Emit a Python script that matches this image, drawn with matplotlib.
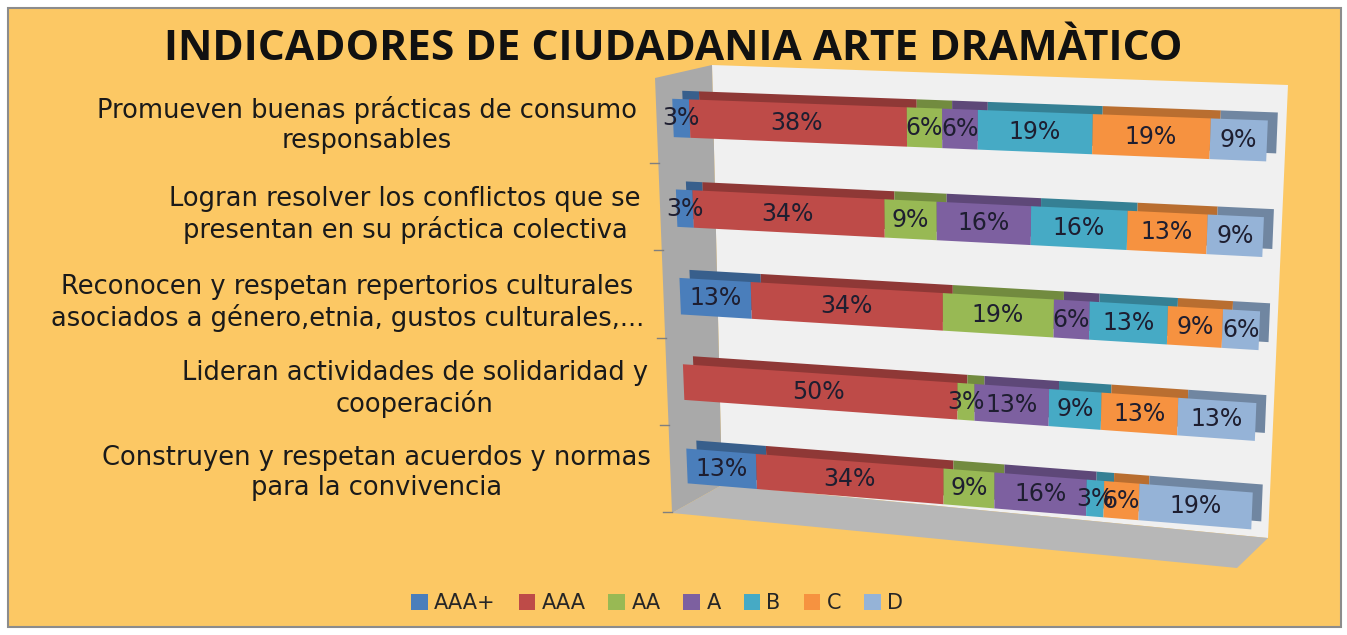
import numpy as np
import matplotlib.pyplot as plt
import matplotlib.transforms as mtransforms
from matplotlib.patches import Polygon, Rectangle
from matplotlib.colors import to_rgb

W, H = 1347, 635

categories = [
    "Promueven buenas prácticas de consumo\nresponsables",
    "Logran resolver los conflictos que se\npresentan en su práctica colectiva",
    "Reconocen y respetan repertorios culturales\nasociados a género,etnia, gustos culturales,...",
    "Lideran actividades de solidaridad y\ncooperación",
    "Construyen y respetan acuerdos y normas\npara la convivencia",
]
series = ["AAA+", "AAA", "AA", "A", "B", "C", "D"]
aaa_plus = [3, 3, 13, 0, 13]
aaa      = [38, 34, 34, 50, 34]
aa       = [6, 9, 19, 3, 9]
a_vals   = [6, 16, 6, 13, 16]
b_vals   = [19, 16, 13, 9, 3]
c_vals   = [19, 13, 9, 13, 6]
d_vals   = [9, 9, 6, 13, 19]
colors = ["#4A7EBB", "#BE4B48", "#98B954", "#7D60A0", "#46AAC5", "#F69240", "#95B3D7"]

values = np.array([aaa_plus, aaa, aa, a_vals, b_vals, c_vals, d_vals], dtype=float)
shares = values / values.sum(axis=0) * 100   # 100% stacked
rows = np.arange(len(categories))


# ── perspective (homography) for the fake 3D look ─────────────────────────────
def homography(src, dst):
    A, rhs = [], []
    for (x, y), (u, v) in zip(src, dst):
        A.append([x, y, 1, 0, 0, 0, -u * x, -u * y]); rhs.append(u)
        A.append([0, 0, 0, x, y, 1, -v * x, -v * y]); rhs.append(v)
    h = np.linalg.solve(np.array(A, float), np.array(rhs, float))
    return np.append(h, 1).reshape(3, 3)


class Perspective(mtransforms.Transform):
    input_dims = output_dims = 2

    def __init__(self, M):
        super().__init__()
        self.M = M

    def transform_non_affine(self, pts):
        pts = np.asarray(pts, float).reshape(-1, 2)
        p = np.c_[pts, np.ones(len(pts))] @ self.M.T
        return p[:, :2] / p[:, 2:3]


# data (percent, row) -> image pixels (y down)
M = homography([(0, 0), (100, 0), (0, 4), (100, 4)],
               [(673, 118), (1267, 141), (687, 466), (1252, 511)])

fig = plt.figure(figsize=(W / 100, H / 100), dpi=100)
fig.patch.set_facecolor("white")
ax = fig.add_axes([0, 0, 1, 1])
ax.set_axis_off()
ax.set_zorder(5)
ax.set_xlim(0, 1); ax.set_ylim(0, 1)

to_fig = mtransforms.Affine2D().scale(1 / W, -1 / H).translate(0, 1) + fig.transFigure
persp = Perspective(M)
T_front = persp + to_fig
T_back = persp + mtransforms.Affine2D().translate(10, -8) + to_fig
T_lab = persp + mtransforms.Affine2D().translate(-36, 7) + to_fig

# ── chart background, walls and floor ─────────────────────────────────────────
fig.add_artist(Rectangle((8, 627), 1333, -619, transform=to_fig,
                         facecolor="#FCC864", edgecolor="#8C8C8C", lw=1.5, zorder=0))
fig.add_artist(Polygon([(712, 65), (1288, 85), (1268, 538), (722, 485)], transform=to_fig,
                       facecolor="#F0F0F0", edgecolor="none", zorder=1))
fig.add_artist(Polygon([(655, 78), (712, 65), (722, 485), (672, 513)], transform=to_fig,
                       facecolor="#A9A9A9", edgecolor="none", zorder=1))
fig.add_artist(Polygon([(672, 513), (722, 485), (1268, 538), (1237, 568)], transform=to_fig,
                       facecolor="#B7B7B7", edgecolor="none", zorder=1))
# small category separators on the side wall
for ty, tx in [(163, 659), (250, 663), (338, 666), (425, 669), (512, 672)]:
    fig.add_artist(plt.Line2D([tx - 9, tx], [ty, ty], transform=to_fig,
                              color="#7F7F7F", lw=1, zorder=1))

# ── bars: darker shifted copy (top face / end cap) then front face ────────────
left = np.zeros(len(categories))
for k, name in enumerate(series):
    dark = tuple(c * 0.75 for c in to_rgb(colors[k]))
    ax.barh(rows, shares[k], left=left, height=0.42, color=dark,
            transform=T_back, zorder=2, clip_on=False)
    left += shares[k]

left = np.zeros(len(categories))
handles = []
for k, name in enumerate(series):
    bars = ax.barh(rows, shares[k], left=left, height=0.42, color=colors[k],
                   transform=T_front, zorder=3, clip_on=False, label=name)
    handles.append(bars)
    for r in rows:
        if values[k, r] > 0:
            ax.text(left[r] + shares[k, r] / 2, r, f"{values[k, r]:.0f}%",
                    transform=T_front, ha="center", va="center", fontsize=17,
                    color="#1E1E30", zorder=5, clip_on=False)
    left += shares[k]

# ── category labels ───────────────────────────────────────────────────────────
for r, cat in zip(rows, categories):
    ax.text(0, r, cat, transform=T_lab, ha="right", va="center", multialignment="center",
            fontsize=18.5, color="#1A1A1A", linespacing=1.2, clip_on=False)

fig.text(0.5, 1 - 49 / H, "INDICADORES DE CIUDADANIA ARTE DRAMÀTICO",
         ha="center", va="center", fontsize=30.5, fontweight="bold",
         family="Open Sans", color="#111111")

fig.legend(handles=handles, labels=series, loc="center", ncol=7,
           bbox_to_anchor=(657 / W, 1 - 603 / H), frameon=False, fontsize=15,
           handlelength=0.8, handleheight=0.8, handletextpad=0.3, columnspacing=1.1,
           labelcolor="#262626")

fig.savefig("out.png", dpi=100)
